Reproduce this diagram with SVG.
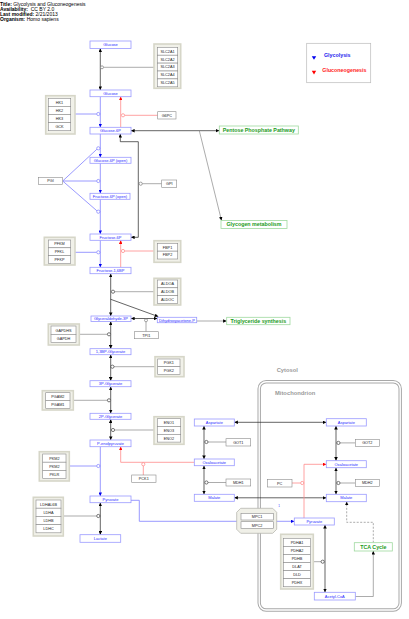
<svg xmlns="http://www.w3.org/2000/svg" width="409" height="619" viewBox="0 0 409 619">
<style>
text{font-family:"Liberation Sans",Arial,sans-serif}
.hd{font-size:5px;fill:#000}
.hb{font-weight:bold}
.m rect{fill:#fff;stroke:#9a9aff;stroke-width:.8}
.m text{font-size:4px;fill:#2b2bff;text-anchor:middle}
.g rect{fill:#fff;stroke:#8a8a8a;stroke-width:.6}
.g text{font-size:3.8px;fill:#222;text-anchor:middle}
.g rect.grp{fill:#f1f1e9;stroke:#d6d6c8;stroke-width:1.6}
.pw rect{fill:#fff;stroke:#9fd99f;stroke-width:.8}
.pw text{font-size:5.3px;font-weight:bold;fill:#1a9a1a;text-anchor:middle}
.k{stroke:#222;stroke-width:.7;fill:none}
.b{stroke:#8080ff;stroke-width:.8;fill:none}
.r{stroke:#ff8a8a;stroke-width:.8;fill:none}
.gr{stroke:#888;stroke-width:.7;fill:none}
.dsh{stroke:#888;stroke-width:.7;fill:none;stroke-dasharray:2,1.5}
.ck{fill:#fff;stroke:#222;stroke-width:.6}
.cb{fill:#fff;stroke:#6a6aff;stroke-width:.6}
.cr{fill:#fff;stroke:#ff7070;stroke-width:.6}
.cg{fill:#fff;stroke:#666;stroke-width:.6}
.comp{font-size:5.8px;font-weight:bold;fill:#9a9a9a}
</style>
<defs>
<marker id="ak" viewBox="0 0 10 10" refX="10" refY="5" markerWidth="3.6" markerHeight="3.6" markerUnits="userSpaceOnUse" orient="auto-start-reverse"><path d="M0,0L10,5L0,10z" fill="#000"/></marker>
<marker id="ab" viewBox="0 0 10 10" refX="10" refY="5" markerWidth="3.6" markerHeight="3.6" markerUnits="userSpaceOnUse" orient="auto-start-reverse"><path d="M0,0L10,5L0,10z" fill="#0000ee"/></marker>
<marker id="ar" viewBox="0 0 10 10" refX="10" refY="5" markerWidth="3.6" markerHeight="3.6" markerUnits="userSpaceOnUse" orient="auto-start-reverse"><path d="M0,0L10,5L0,10z" fill="#ff0000"/></marker>
</defs>
<rect width="409" height="619" fill="#fff"/>

<g id="header" class="hd">
<text x="0" y="6.1"><tspan class="hb">Title:</tspan><tspan x="13.3">Glycolysis and Gluconeogenesis</tspan></text>
<text x="0" y="11.1"><tspan class="hb">Availability:</tspan><tspan x="30.7">CC BY 2.0</tspan></text>
<text x="0" y="16.1"><tspan class="hb">Last modified:</tspan><tspan x="35.5">2/21/2013</tspan></text>
<text x="0" y="21.1"><tspan class="hb">Organism:</tspan><tspan x="26.7">Homo sapiens</tspan></text>
</g>

<g id="mitochondrion">
<rect x="259.2" y="381.7" width="141" height="228.3" rx="7" fill="none" stroke="#a8a8a8" stroke-width="3.4"/>
<rect x="259.2" y="381.7" width="141" height="228.3" rx="7" fill="none" stroke="#fff" stroke-width="1.4"/>
<text class="comp" x="275" y="395.3">Mitochondrion</text>
</g>
<g id="cytosol"><text class="comp" x="276.7" y="372">Cytosol</text></g>

<g id="legend">
<rect x="306.7" y="43.3" width="64" height="39.4" fill="#fff" stroke="#bbb" stroke-width=".7"/>
<path d="M311.8,56.2L316.2,56.2L314,59.8z" fill="#0000ee"/>
<text x="324" y="57.3" font-size="5.3" font-weight="bold" fill="#2222ee">Glycolysis</text>
<path d="M311.8,70.8L316.2,70.8L314,74.4z" fill="#ff0000"/>
<text x="322.3" y="71.6" font-size="5.3" font-weight="bold" fill="#ff2222">Gluconeogenesis</text>
</g>

<g id="edges">
<!-- glucose transport -->
<line class="k" x1="100.3" y1="48.5" x2="100.3" y2="90" marker-start="url(#ak)" marker-end="url(#ak)"/>
<line class="gr" x1="154" y1="67.3" x2="103.5" y2="67.3"/><circle class="cg" cx="102" cy="67.3" r="1.5"/>
<!-- HK -->
<line class="b" x1="100.3" y1="96.7" x2="100.3" y2="127.3" marker-end="url(#ab)"/>
<line class="b" x1="75" y1="114" x2="96.7" y2="114"/><circle class="cb" cx="98.3" cy="114" r="1.6"/>
<!-- G6PC -->
<line class="r" x1="120.7" y1="127.3" x2="120.7" y2="96.7" marker-end="url(#ar)"/>
<line class="r" x1="157.7" y1="115.3" x2="124.6" y2="115.3"/><circle class="cr" cx="123" cy="115.3" r="1.6"/>
<!-- pentose / glycogen -->
<line class="k" x1="131" y1="130.7" x2="219.3" y2="130.7" marker-start="url(#ak)" marker-end="url(#ak)"/>
<line class="gr" x1="199.3" y1="130.7" x2="221.5" y2="220.5" marker-end="url(#ak)"/>
<!-- GPI -->
<polyline class="k" points="131,237.3 138.3,237.3 138.3,141.7 120.3,141.7 120.3,134" marker-start="url(#ak)" marker-end="url(#ak)"/>
<line class="gr" x1="161.7" y1="183.7" x2="142.3" y2="183.7"/><circle class="cg" cx="140.7" cy="183.7" r="1.6"/>
<!-- PGI chain -->
<line class="b" x1="100.3" y1="134" x2="100.3" y2="157.3" marker-end="url(#ab)"/>
<line class="b" x1="100.3" y1="163.3" x2="100.3" y2="193.3" marker-end="url(#ab)"/>
<line class="b" x1="100.3" y1="199.3" x2="100.3" y2="234" marker-end="url(#ab)"/>
<line class="b" x1="62.7" y1="181" x2="96.9" y2="149.2"/>
<line class="b" x1="62.7" y1="181" x2="96.7" y2="181"/>
<line class="b" x1="62.7" y1="181" x2="96.9" y2="210.8"/>
<circle class="cb" cx="98.3" cy="148.3" r="1.6"/>
<circle class="cb" cx="98.3" cy="181" r="1.6"/>
<circle class="cb" cx="98.3" cy="211.7" r="1.6"/>
<!-- PFK -->
<line class="b" x1="100.3" y1="240.3" x2="100.3" y2="267.3" marker-end="url(#ab)"/>
<line class="b" x1="75" y1="252.3" x2="96.7" y2="252.3"/><circle class="cb" cx="98.3" cy="252.3" r="1.6"/>
<!-- FBP -->
<line class="r" x1="120.7" y1="267.3" x2="120.7" y2="240.3" marker-end="url(#ar)"/>
<line class="r" x1="154" y1="251" x2="124.6" y2="251"/><circle class="cr" cx="123" cy="251" r="1.6"/>
<!-- ALDO -->
<line class="k" x1="110.7" y1="273.7" x2="110.7" y2="316" marker-start="url(#ak)" marker-end="url(#ak)"/>
<line class="gr" x1="154" y1="291.7" x2="114.6" y2="291.7"/><circle class="ck" cx="113" cy="291.7" r="1.6"/>
<line class="k" x1="110.7" y1="299.3" x2="158.3" y2="316.6" marker-end="url(#ak)"/>
<!-- TPI -->
<line class="k" x1="131" y1="318.5" x2="157.3" y2="318.5" marker-start="url(#ak)" marker-end="url(#ak)"/>
<line class="gr" x1="146" y1="331.7" x2="146" y2="321.8"/><circle class="cg" cx="146" cy="320.3" r="1.5"/>
<line class="gr" x1="196.7" y1="321" x2="226.7" y2="321" marker-end="url(#ak)"/>
<!-- GAPDH -->
<line class="k" x1="110.7" y1="321.5" x2="110.7" y2="348.7" marker-start="url(#ak)" marker-end="url(#ak)"/>
<line class="gr" x1="79.3" y1="334.3" x2="107.4" y2="334.3"/><circle class="ck" cx="109" cy="334.3" r="1.6"/>
<!-- PGK -->
<line class="k" x1="110.7" y1="354.7" x2="110.7" y2="380.7" marker-start="url(#ak)" marker-end="url(#ak)"/>
<line class="gr" x1="155" y1="366.7" x2="114" y2="366.7"/><circle class="ck" cx="112.4" cy="366.7" r="1.6"/>
<!-- PGAM -->
<line class="k" x1="110.7" y1="386.7" x2="110.7" y2="413.3" marker-start="url(#ak)" marker-end="url(#ak)"/>
<line class="gr" x1="73.3" y1="400.3" x2="107.4" y2="400.3"/><circle class="ck" cx="109" cy="400.3" r="1.6"/>
<!-- ENO -->
<line class="k" x1="110.7" y1="419.3" x2="110.7" y2="440" marker-start="url(#ak)" marker-end="url(#ak)"/>
<line class="gr" x1="154" y1="430" x2="114.6" y2="430"/><circle class="ck" cx="113" cy="430" r="1.6"/>
<!-- PK -->
<line class="b" x1="100.3" y1="446.7" x2="100.3" y2="496" marker-end="url(#ab)"/>
<line class="b" x1="69.3" y1="466" x2="96.7" y2="466"/><circle class="cb" cx="98.3" cy="466" r="1.6"/>
<!-- PCK1 -->
<polyline class="r" points="194.3,462.3 120.7,462.3 120.7,446.7" marker-end="url(#ar)"/>
<line class="r" x1="143.3" y1="475" x2="143.3" y2="465.8"/><circle class="cr" cx="143.3" cy="464.2" r="1.6"/>
<!-- pyruvate transport -->
<polyline class="b" points="131,500.3 139.3,500.3 139.3,521.3 294.3,521.3" marker-end="url(#ab)"/>
<!-- LDH -->
<line class="k" x1="100.3" y1="502.7" x2="100.3" y2="534.7" marker-start="url(#ak)" marker-end="url(#ak)"/>
<line class="gr" x1="63.3" y1="516" x2="96.7" y2="516"/><circle class="ck" cx="98.3" cy="516" r="1.6"/>
<!-- shuttle -->
<line class="k" x1="234.3" y1="422.3" x2="326.3" y2="422.3" marker-start="url(#ak)" marker-end="url(#ak)"/>
<line class="k" x1="234.3" y1="497.8" x2="326.3" y2="497.8" marker-start="url(#ak)" marker-end="url(#ak)"/>
<line class="k" x1="204" y1="426" x2="204" y2="459" marker-start="url(#ak)" marker-end="url(#ak)"/>
<line class="gr" x1="226" y1="442" x2="208" y2="442"/><circle class="ck" cx="206.4" cy="442" r="1.6"/>
<line class="k" x1="204" y1="465.7" x2="204" y2="494.3" marker-start="url(#ak)" marker-end="url(#ak)"/>
<line class="gr" x1="226" y1="482.5" x2="208" y2="482.5"/><circle class="ck" cx="206.4" cy="482.5" r="1.6"/>
<line class="k" x1="336" y1="426" x2="336" y2="460.7" marker-start="url(#ak)" marker-end="url(#ak)"/>
<line class="gr" x1="355.3" y1="442.9" x2="340" y2="442.9"/><circle class="ck" cx="338.4" cy="442.9" r="1.6"/>
<line class="k" x1="336" y1="467.7" x2="336" y2="494.3" marker-start="url(#ak)" marker-end="url(#ak)"/>
<line class="gr" x1="355.3" y1="483" x2="340" y2="483"/><circle class="ck" cx="338.4" cy="483" r="1.6"/>
<!-- PC -->
<polyline class="r" points="304,518 304,464.3 326.3,464.3" marker-end="url(#ar)"/>
<line class="r" x1="292" y1="483" x2="300.6" y2="483"/><circle class="cr" cx="302.2" cy="483" r="1.6"/>
<!-- PDH -->
<line class="k" x1="325" y1="525" x2="325" y2="592.3" marker-start="url(#ak)" marker-end="url(#ak)"/>
<line class="gr" x1="313.3" y1="561.7" x2="321.1" y2="561.7"/><circle class="ck" cx="322.7" cy="561.7" r="1.6"/>
<!-- TCA -->
<polyline class="dsh" points="373.3,542.7 373.3,522.3 346.7,522.3 346.7,501.7" marker-end="url(#ak)"/>
<polyline class="gr" points="355.3,596.5 373.3,596.5 373.3,551" marker-end="url(#ak)"/>
</g>

<g id="n-glucose1" class="m"><rect x="90" y="41" width="41" height="7.5"/><text x="110.5" y="46.2">Glucose</text></g>
<g id="n-glucose2" class="m"><rect x="90" y="90" width="41" height="6.7"/><text x="110.5" y="94.8">Glucose</text></g>
<g id="n-g6p" class="m"><rect x="90" y="127.3" width="41" height="6.7"/><text x="110.5" y="132.1">Glucose-6P</text></g>
<g id="n-g6p-open" class="m"><rect x="90" y="157.3" width="41" height="6"/><text x="110.5" y="161.7">Glucose-6P (open)</text></g>
<g id="n-f6p-open" class="m"><rect x="90" y="193.3" width="40" height="6"/><text x="110" y="197.7">Fructose-6P (open)</text></g>
<g id="n-f6p" class="m"><rect x="90" y="234" width="41" height="6.3"/><text x="110.5" y="238.6">Fructose-6P</text></g>
<g id="n-f16bp" class="m"><rect x="90" y="267.3" width="41" height="6.4"/><text x="110.5" y="271.9">Fructose-1,6BP</text></g>
<g id="n-gap" class="m"><rect x="91" y="316" width="40" height="5.5"/><text x="111" y="320.2">Glyceraldehyde-3P</text></g>
<g id="n-dhap" class="m"><rect x="157.3" y="317.3" width="39.4" height="5.4"/><text x="177" y="321.5">Dihydroxyacetone-P</text></g>
<g id="n-13bpg" class="m"><rect x="90" y="348.7" width="41" height="6"/><text x="110.5" y="353.1">1,3BP-Glycerate</text></g>
<g id="n-3pg" class="m"><rect x="90" y="380.7" width="41" height="6"/><text x="110.5" y="385.1">3P-Glycerate</text></g>
<g id="n-2pg" class="m"><rect x="90" y="413.3" width="41" height="6"/><text x="110.5" y="417.7">2P-Glycerate</text></g>
<g id="n-pep" class="m"><rect x="90" y="440" width="41" height="6.7"/><text x="110.5" y="444.8">P-enolpyruvate</text></g>
<g id="n-pyruvate" class="m"><rect x="90" y="496" width="41" height="6.7"/><text x="110.5" y="500.8">Pyruvate</text></g>
<g id="n-lactate" class="m"><rect x="80" y="534.7" width="40.7" height="7.6"/><text x="100.3" y="539.9">Lactate</text></g>
<g id="n-asp-c" class="m"><rect x="194.3" y="419" width="40" height="7"/><text x="214.3" y="423.9">Aspartate</text></g>
<g id="n-oaa-c" class="m"><rect x="194.3" y="459" width="40" height="6.7"/><text x="214.3" y="463.8">Oxaloacetate</text></g>
<g id="n-mal-c" class="m"><rect x="194.3" y="494.3" width="40" height="7"/><text x="214.3" y="499.2">Malate</text></g>
<g id="n-asp-m" class="m"><rect x="326.3" y="418.7" width="40" height="7.3"/><text x="346.3" y="423.8">Aspartate</text></g>
<g id="n-oaa-m" class="m"><rect x="326.3" y="460.7" width="40" height="7"/><text x="346.3" y="465.6">Oxaloacetate</text></g>
<g id="n-mal-m" class="m"><rect x="326.3" y="494.3" width="40" height="7.4"/><text x="346.3" y="499.4">Malate</text></g>
<g id="n-pyr-m" class="m"><rect x="294.3" y="518" width="40" height="7"/><text x="314.3" y="522.9">Pyruvate</text></g>
<g id="n-acetylcoa" class="m"><rect x="314.3" y="592.3" width="41" height="7.7"/><text x="334.8" y="597.6">Acetyl-CoA</text></g>

<g id="p-pentose" class="pw"><rect x="219.3" y="126" width="79" height="8"/><text x="258.8" y="131.9">Pentose Phosphate Pathway</text></g>
<g id="p-glycogen" class="pw"><rect x="221" y="220.5" width="66" height="8"/><text x="254" y="226.4">Glycogen metabolism</text></g>
<g id="p-triglyceride" class="pw"><rect x="226.7" y="317.3" width="63.3" height="7.4"/><text x="258.3" y="322.9">Triglyceride synthesis</text></g>
<g id="p-tca" class="pw"><rect x="354.3" y="542.7" width="38" height="8.3"/><text x="373.3" y="548.8">TCA Cycle</text></g>

<g id="grp-slc2" class="g"><rect class="grp" x="154" y="44" width="26.7" height="44.3"/>
<rect x="157.3" y="47.3" width="20.4" height="7.9"/><text x="167.5" y="52.6">SLC2A1</text>
<rect x="157.3" y="55.2" width="20.4" height="7.9"/><text x="167.5" y="60.5">SLC2A2</text>
<rect x="157.3" y="63.1" width="20.4" height="7.9"/><text x="167.5" y="68.4">SLC2A3</text>
<rect x="157.3" y="71" width="20.4" height="7.9"/><text x="167.5" y="76.3">SLC2A4</text>
<rect x="157.3" y="78.9" width="20.4" height="7.9"/><text x="167.5" y="84.2">SLC2A5</text></g>

<g id="grp-hk" class="g"><rect class="grp" x="45.7" y="95.7" width="29.3" height="38.3"/>
<rect x="48.3" y="98.3" width="22.4" height="8.1"/><text x="59.5" y="103.8">HK1</text>
<rect x="48.3" y="106.4" width="22.4" height="8.1"/><text x="59.5" y="111.9">HK2</text>
<rect x="48.3" y="114.5" width="22.4" height="8.1"/><text x="59.5" y="120">HK3</text>
<rect x="48.3" y="122.6" width="22.4" height="8.1"/><text x="59.5" y="128.1">GCK</text></g>

<g id="n-g6pc" class="g"><rect x="157.7" y="111.7" width="18.3" height="7.3"/><text x="166.8" y="116.7">G6PC</text></g>
<g id="n-pgi" class="g"><rect x="38.3" y="177.3" width="24.4" height="7"/><text x="50.5" y="182.2">PGI</text></g>
<g id="n-gpi" class="g"><rect x="161.7" y="180" width="15" height="7.3"/><text x="169.2" y="185">GPI</text></g>

<g id="grp-pfk" class="g"><rect class="grp" x="44.3" y="237.3" width="30.7" height="27.7"/>
<rect x="48.3" y="240" width="22.4" height="7.8"/><text x="59.5" y="245.3">PFKM</text>
<rect x="48.3" y="247.8" width="22.4" height="7.8"/><text x="59.5" y="253.1">PFKL</text>
<rect x="48.3" y="255.6" width="22.4" height="7.8"/><text x="59.5" y="260.9">PFKP</text></g>

<g id="grp-fbp" class="g"><rect class="grp" x="154" y="240.7" width="26.7" height="21.6"/>
<rect x="157.3" y="243.3" width="20.4" height="7.85"/><text x="167.5" y="248.6">FBP1</text>
<rect x="157.3" y="251.15" width="20.4" height="7.85"/><text x="167.5" y="256.45">FBP2</text></g>

<g id="grp-aldo" class="g"><rect class="grp" x="154" y="278.3" width="26.7" height="26.7"/>
<rect x="157.3" y="280" width="20.4" height="7.8"/><text x="167.5" y="285.3">ALDOA</text>
<rect x="157.3" y="287.8" width="20.4" height="7.8"/><text x="167.5" y="293.1">ALDOB</text>
<rect x="157.3" y="295.6" width="20.4" height="7.8"/><text x="167.5" y="300.9">ALDOC</text></g>

<g id="n-tpi" class="g"><rect x="134.3" y="331.7" width="24" height="7"/><text x="146.3" y="336.6">TPI1</text></g>

<g id="grp-gapdh" class="g"><rect class="grp" x="48.3" y="324" width="31" height="21"/>
<rect x="51" y="326" width="25" height="8.3"/><text x="63.5" y="331.5">GAPDHS</text>
<rect x="51" y="334.3" width="25" height="8.3"/><text x="63.5" y="339.8">GAPDH</text></g>

<g id="grp-pgk" class="g"><rect class="grp" x="155" y="356.7" width="29" height="20"/>
<rect x="157.7" y="359" width="22.3" height="7.7"/><text x="168.85" y="364.2">PGK1</text>
<rect x="157.7" y="366.7" width="22.3" height="7.7"/><text x="168.85" y="371.9">PGK2</text></g>

<g id="grp-pgam" class="g"><rect class="grp" x="42.3" y="390.7" width="31" height="19.3"/>
<rect x="45.7" y="392.7" width="24.3" height="7.8"/><text x="57.85" y="398">PGAM2</text>
<rect x="45.7" y="400.5" width="24.3" height="7.8"/><text x="57.85" y="405.8">PGAM1</text></g>

<g id="grp-eno" class="g"><rect class="grp" x="154" y="416.7" width="30" height="27.6"/>
<rect x="157.3" y="418.7" width="23.4" height="7.8"/><text x="169" y="424">ENO1</text>
<rect x="157.3" y="426.5" width="23.4" height="7.8"/><text x="169" y="431.8">ENO3</text>
<rect x="157.3" y="434.3" width="23.4" height="7.8"/><text x="169" y="439.6">ENO2</text></g>

<g id="grp-pk" class="g"><rect class="grp" x="39.3" y="451.7" width="30" height="29.3"/>
<rect x="42.7" y="454" width="23.3" height="8.2"/><text x="54.35" y="459.5">PKM2</text>
<rect x="42.7" y="462.2" width="23.3" height="8.2"/><text x="54.35" y="467.7">PKM2</text>
<rect x="42.7" y="470.4" width="23.3" height="8.2"/><text x="54.35" y="475.9">PKLR</text></g>

<g id="n-pck1" class="g"><rect x="131.7" y="475" width="24.3" height="7.3"/><text x="143.8" y="480">PCK1</text></g>

<g id="grp-ldh" class="g"><rect class="grp" x="33.3" y="497.3" width="30" height="38.7"/>
<rect x="36" y="500" width="25" height="8.2"/><text x="48.5" y="505.5">LDHAL6B</text>
<rect x="36" y="508.2" width="25" height="8.2"/><text x="48.5" y="513.7">LDHA</text>
<rect x="36" y="516.4" width="25" height="8.2"/><text x="48.5" y="521.9">LDHB</text>
<rect x="36" y="524.6" width="25" height="8.2"/><text x="48.5" y="530.1">LDHC</text></g>

<g id="n-got1" class="g"><rect x="226" y="438.7" width="24.7" height="7.3"/><text x="238.3" y="443.7">GOT1</text></g>
<g id="n-mdh1" class="g"><rect x="226" y="479" width="24.7" height="7"/><text x="238.3" y="483.9">MDH1</text></g>
<g id="n-got2" class="g"><rect x="355.3" y="439.3" width="24" height="7.4"/><text x="367.3" y="444.4">GOT2</text></g>
<g id="n-mdh2" class="g"><rect x="355.3" y="479.3" width="24" height="7.4"/><text x="367.3" y="484.4">MDH2</text></g>
<g id="n-pc" class="g"><rect x="267.3" y="479.3" width="24.7" height="7.7"/><text x="279.6" y="484.5">PC</text></g>

<g id="grp-mpc" class="g">
<polygon points="240.7,508.3 272.7,508.3 276.7,512.3 276.7,529.3 272.7,533.3 240.7,533.3 236.7,529.3 236.7,512.3" fill="#f0f0e8" stroke="#b8b8b0" stroke-width=".8"/>
<rect x="241" y="513.3" width="32.3" height="6.7"/><text x="257.15" y="518.1">MPC1</text>
<rect x="241" y="521.7" width="32.3" height="6.7"/><text x="257.15" y="526.5">MPC2</text></g>
<g id="label-1"><text x="278.3" y="507" font-size="3" fill="#2b2bff">1</text></g>

<g id="grp-pdh" class="g"><rect class="grp" x="280.7" y="534.3" width="32.6" height="54.7"/>
<rect x="283.3" y="538.3" width="27.4" height="8.07"/><text x="297" y="543.7">PDHA1</text>
<rect x="283.3" y="546.37" width="27.4" height="8.07"/><text x="297" y="551.8">PDHA2</text>
<rect x="283.3" y="554.44" width="27.4" height="8.07"/><text x="297" y="559.8">PDHB</text>
<rect x="283.3" y="562.51" width="27.4" height="8.07"/><text x="297" y="567.9">DLAT</text>
<rect x="283.3" y="570.58" width="27.4" height="8.07"/><text x="297" y="576">DLD</text>
<rect x="283.3" y="578.65" width="27.4" height="8.07"/><text x="297" y="584">PDHX</text></g>
</svg>
